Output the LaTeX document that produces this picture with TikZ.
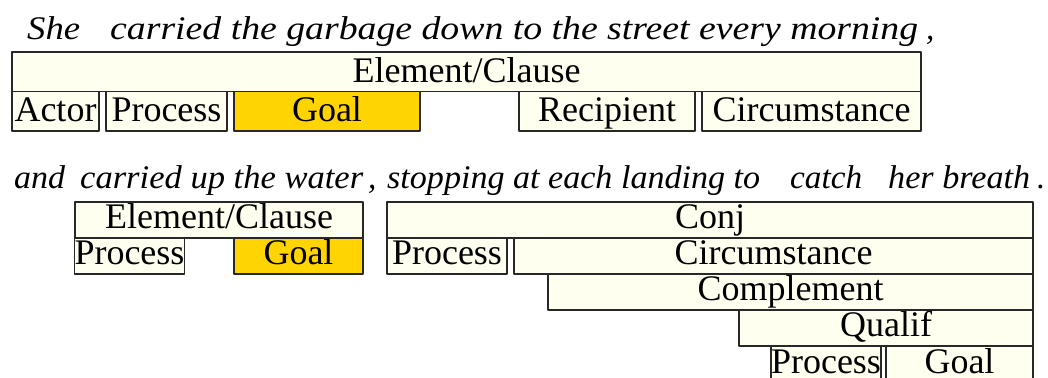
\documentclass[tikz,border=0pt]{standalone}
\usepackage{fontspec}
\setmainfont{Liberation Serif}
\usetikzlibrary{shapes}

\definecolor{cellfill}{RGB}{255,255,240}
\definecolor{goalfill}{RGB}{255,212,0}
\definecolor{cellline}{RGB}{40,40,40}
\newcommand{\wordrun}[2]{\resizebox{#1}{\height}{#2}}

\begin{document}
\begin{tikzpicture}[line join=bevel,
  cell/.style={draw=cellline,line width=1.6bp,fill=cellfill,inner xsep=0pt,inner ysep=0pt,text depth=9bp,font=\fontsize{36bp}{40bp}\selectfont},
  tall/.style={cell,text height=30.5bp},
  short/.style={cell,text height=27bp},
  goal/.style={fill=goalfill},
  words/.style={inner sep=0pt,anchor=base west,font=\fontsize{33bp}{36bp}\selectfont\itshape},
]
\useasboundingbox (0bp,0bp) rectangle (1048bp,378bp);
%% first sentence
\node (node_s0) at (27bp,338bp) [words] {\wordrun{53bp}{She}};
  \node (node_s1) at (110bp,338bp) [words] {\wordrun{808bp}{carried the garbage down to the street every morning}};
  \node (node_s2) at (926bp,338bp) [words] {,};
  \node (node_0) at (466.5bp,306.25bp) [tall,minimum width=909bp] {Element/Clause};
  \node (node_1) at (55.5bp,266.75bp) [tall,minimum width=87bp] {Actor};
  \node (node_2) at (166.5bp,266.75bp) [tall,minimum width=121bp] {Process};
  \node (node_3) at (327bp,266.75bp) [tall,goal,minimum width=186bp] {Goal};
  \node (node_4) at (607bp,266.75bp) [tall,minimum width=176bp] {Recipient};
  \node (node_5) at (811.5bp,266.75bp) [tall,minimum width=219bp] {Circumstance};
%% second sentence
\node (node_t0) at (14bp,189bp) [words] {\wordrun{51bp}{and}};
  \node (node_t1) at (80bp,189bp) [words] {\wordrun{283bp}{carried up the water}};
  \node (node_t2) at (368bp,189bp) [words] {,};
  \node (node_t3) at (387bp,189bp) [words] {\wordrun{373bp}{stopping at each landing to}};
  \node (node_t4) at (790bp,189bp) [words] {\wordrun{72bp}{catch}};
  \node (node_t5) at (888bp,189bp) [words] {\wordrun{142bp}{her breath}};
  \node (node_t6) at (1037bp,189bp) [words] {.};
  \node (node_6) at (219bp,158bp) [short,minimum width=288bp] {Element/Clause};
  \node (node_7) at (129.5bp,122bp) [short,minimum width=109bp] {Process};
  \node (node_8) at (298.5bp,122bp) [short,goal,minimum width=129bp] {Goal};
  \node (node_9) at (710bp,158bp) [short,minimum width=646bp] {Conj};
  \node (node_10) at (447bp,122bp) [short,minimum width=120bp] {Process};
  \node (node_11) at (773.5bp,122bp) [short,minimum width=519bp] {Circumstance};
  \node (node_12) at (790.5bp,86bp) [short,minimum width=485bp] {Complement};
  \node (node_13) at (886bp,50bp) [short,minimum width=294bp] {Qualif};
  \node (node_14) at (826bp,14bp) [short,minimum width=108bp] {Process};
  \node (node_15) at (959.5bp,14bp) [short,minimum width=147bp] {Goal};
%
\end{tikzpicture}
\end{document}
